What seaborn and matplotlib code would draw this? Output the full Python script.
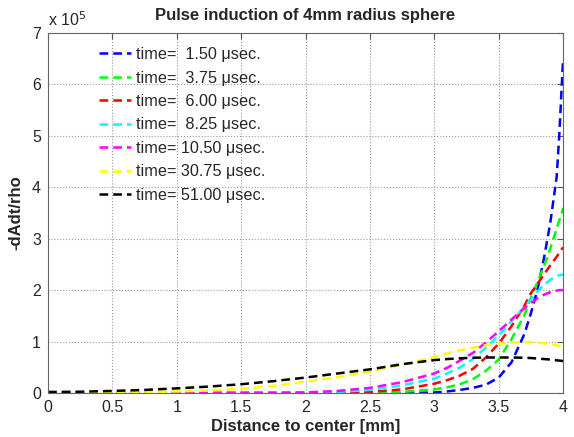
import matplotlib
matplotlib.use("Agg")
import matplotlib.pyplot as plt
import pandas as pd
import numpy as np
import seaborn as sns

# distance from centre [mm]
dist = [0, 0.25, 0.5, 0.75, 1.0, 1.25, 1.5, 1.75, 2.0, 2.25, 2.5, 2.75, 3.0,
        3.1, 3.2, 3.3, 3.4, 3.5, 3.6, 3.7, 3.75, 3.8, 3.85, 3.9, 3.95, 3.97, 3.99, 4.0]

# -dAdt/rho in units of 1e5
t_150 = [0, 0, 0, 0, 0, 0, 0, 0, 0, 0, 0, 0, 0.01,
         0.03, 0.06, 0.10, 0.16, 0.30, 0.60, 1.15, 1.55, 2.0, 2.6, 3.3, 4.2, 5.0, 6.0, 6.5]
t_375 = [0, 0, 0, 0, 0, 0, 0, 0, 0, 0, 0, 0.02, 0.07,
         0.11, 0.17, 0.27, 0.43, 0.65, 1.05, 1.52, 1.85, 2.15, 2.45, 2.8, 3.2, 3.35, 3.5, 3.6]
t_600 = [0, 0, 0, 0, 0, 0, 0, 0, 0, 0.005, 0.02, 0.07, 0.18,
         0.25, 0.34, 0.47, 0.69, 0.96, 1.30, 1.70, 1.94, 2.12, 2.30, 2.48, 2.65, 2.72, 2.80, 2.83]
t_825 = [0, 0, 0, 0, 0, 0, 0, 0, 0.005, 0.02, 0.06, 0.15, 0.28,
         0.38, 0.50, 0.66, 0.88, 1.12, 1.40, 1.68, 1.82, 1.97, 2.10, 2.20, 2.27, 2.29, 2.30, 2.30]
t_1050 = [0, 0, 0, 0, 0, 0, 0, 0, 0.01, 0.04, 0.10, 0.21, 0.38,
          0.49, 0.63, 0.78, 0.98, 1.20, 1.43, 1.65, 1.75, 1.84, 1.91, 1.96, 1.99, 2.0, 2.0, 2.0]
t_3075 = [0, 0, 0.005, 0.015, 0.03, 0.05, 0.08, 0.14, 0.22, 0.31, 0.42, 0.55, 0.70,
          0.77, 0.83, 0.88, 0.93, 0.96, 0.98, 0.99, 0.99, 0.98, 0.97, 0.95, 0.93, 0.915, 0.90, 0.89]
t_5100 = [0.02, 0.025, 0.04, 0.06, 0.09, 0.125, 0.17, 0.23, 0.30, 0.38, 0.46, 0.56, 0.64,
          0.66, 0.675, 0.685, 0.69, 0.69, 0.69, 0.685, 0.68, 0.67, 0.66, 0.65, 0.635, 0.63, 0.625, 0.62]

times = [1.50, 3.75, 6.00, 8.25, 10.50, 30.75, 51.00]
series = [t_150, t_375, t_600, t_825, t_1050, t_3075, t_5100]
colors = ["#0000ff", "#00ff00", "#ff0000", "#00ffff", "#ff00ff", "#ffff00", "#000000"]
scale = 1e5

sns.set_style("white")
plt.rcParams["font.family"] = ["Liberation Sans", "DejaVu Sans"]

fig = plt.figure(figsize=(5.74, 4.37), dpi=100)
ax = fig.add_axes([0.0836, 0.1007, 0.8974, 0.8238])

for t, vals, c in zip(times, series, colors):
    df = pd.DataFrame({"dist": dist, "val": np.array(vals) * scale})
    sns.lineplot(data=df, x="dist", y="val", color=c, linestyle="--",
                 dashes=False, linewidth=1.8, label="time= %5.2f \u03bcsec." % t, ax=ax)

for ln in ax.get_lines():
    ln.set_dashes((3.5, 2))

ax.set_xlim(0, 4)
ax.set_ylim(0, 7 * scale)
ax.set_xticks(np.arange(0, 4.01, 0.5))
ax.set_xticklabels(["0", "0.5", "1", "1.5", "2", "2.5", "3", "3.5", "4"])
ax.set_yticks(np.arange(0, 7.01, 1) * scale)
ax.set_yticklabels([str(i) for i in range(8)])
ax.text(0.0, 1.01, "x 10$^5$", transform=ax.transAxes, fontsize=11.5,
        ha="left", va="bottom")

ax.grid(True, linestyle=":", color="#999999", linewidth=0.8)
ax.tick_params(direction="in", top=True, right=True, length=4, labelsize=11.5,
               color="#555555", pad=5)
for s in ax.spines.values():
    s.set_color("#666666")
    s.set_linewidth(0.8)

ax.set_title("Pulse induction of 4mm radius sphere", fontsize=12,
             fontweight="bold", pad=9.5)
ax.set_xlabel("Distance to center [mm]", fontsize=12, fontweight="bold", labelpad=3)
ax.set_ylabel("-dAdt/rho", fontsize=12, fontweight="bold", labelpad=6)

ax.legend(loc="upper left", bbox_to_anchor=(0.08, 0.988), frameon=False,
          fontsize=11.7, handlelength=2.0, handletextpad=0.25,
          labelspacing=0.52, borderaxespad=0.2)

fig.savefig("out.png", dpi=100)
